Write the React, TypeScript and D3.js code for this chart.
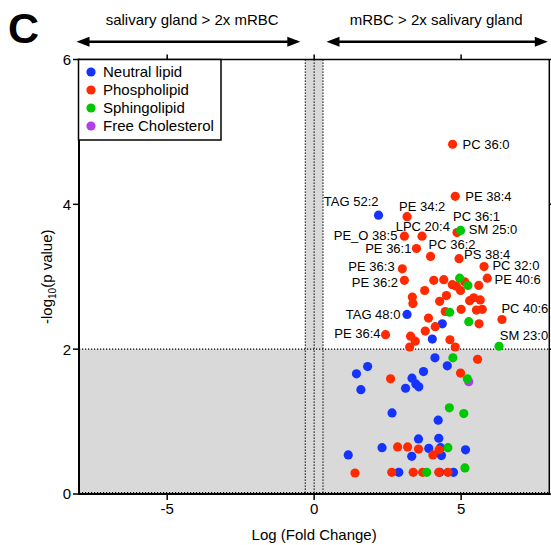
import React from "react";
import * as d3 from "d3";

// ---- Data ----
const xDomain = [-8, 8];
const yDomain = [0, 6];
const xTicks = [-5, 0, 5];
const yTicks = [0, 2, 4, 6];
const foldThreshold = 0.301; // log10(2)
const pThreshold = 2;

const classNames = ["Neutral lipid", "Phospholipid", "Sphingolipid", "Free Cholesterol"];
const classColors = ["#1433ff", "#ff2a00", "#00c800", "#b040e6"];

// Neutral lipid
const neutralX = [2.19, 3.16, 4.36, 4.02, 4.11, 1.82, 1.44, 4.53, 3.72, 3.33, 3.46, 3.56, 3.11, 1.59, 2.65, 4.22, 3.55, 4.24, 2.31, 3.90, 4.30, 5.15, 1.16, 3.32, 4.33, 2.88, 4.74, 4.27];
const neutralY = [3.85, 2.48, 2.35, 2.14, 1.88, 1.76, 1.66, 1.77, 1.69, 1.60, 1.52, 1.48, 1.46, 1.44, 1.12, 1.02, 0.76, 0.77, 0.64, 0.63, 0.64, 0.61, 0.54, 0.52, 0.53, 0.30, 0.30, 0.30];
const neutralLabels = ["TAG 52:2", "TAG 48:0"];

// Phospholipid
const phosphoX = [4.71, 4.80, 3.16, 4.86, 3.67, 3.07, 3.48, 3.96, 4.93, 5.78, 3.00, 5.89, 3.07, 4.07, 4.41, 5.12, 4.70, 4.84, 5.60, 4.98, 3.76, 4.50, 3.34, 5.43, 5.29, 5.65, 4.27, 3.36, 5.52, 5.72, 4.46, 5.00, 6.39, 3.89, 4.12, 5.61, 3.78, 2.43, 3.28, 3.44, 4.62, 3.25, 4.80, 5.56, 4.98, 2.60, 2.84, 3.18, 3.55, 4.25, 4.04, 1.39, 2.64, 3.37, 3.69, 4.24, 4.55];
const phosphoY = [4.83, 4.11, 3.83, 3.61, 3.56, 3.56, 3.39, 3.28, 3.25, 3.14, 3.11, 2.98, 2.95, 2.95, 2.96, 2.93, 2.89, 2.87, 2.88, 2.81, 2.81, 2.74, 2.72, 2.71, 2.67, 2.68, 2.66, 2.63, 2.54, 2.55, 2.52, 2.55, 2.41, 2.43, 2.31, 2.35, 2.25, 2.20, 2.18, 2.11, 2.13, 2.03, 2.03, 1.86, 1.67, 1.59, 0.65, 0.65, 0.62, 0.61, 0.54, 0.29, 0.30, 0.30, 0.30, 0.30, 0.30];
const phosphoLabels = ["PC 36:0", "PE 38:4", "PE 34:2", "PC 36:1", "LPC 20:4", "PE_O 38:5", "PE 36:1", "PC 36:2", "PS 38:4", "PC 32:0", "PE 36:3", "PE 40:6", "PE 36:2"];
const phosphoLabelIdx = [0, 1, 2, 3, 4, 5, 6, 7, 8, 9, 10, 11, 12];
const phosphoExtraLabels = [["PC 40:6", 32], ["PE 36:4", 37]] as const;

// Sphingolipid
const sphingoX = [4.98, 4.95, 5.23, 4.61, 5.26, 6.29, 4.72, 5.21, 4.60, 5.09, 4.55, 5.13, 3.83];
const sphingoY = [3.64, 2.98, 2.88, 2.51, 2.38, 2.04, 1.88, 1.59, 1.19, 1.11, 0.64, 0.36, 0.30];
const sphingoLabels = [["SM 25:0", 0], ["SM 23:0", 5]] as const;

// Free cholesterol
const cholX = [5.26];
const cholY = [1.55];

// ---- label placement (px offsets from point, text-anchor) ----
const labelPlacement: Record<string, [number, number, string]> = {
  "PC 36:0": [10, 0, "start"],
  "PE 38:4": [10, 0, "start"],
  "TAG 52:2": [0, -13.5, "end"],
  "PE 34:2": [-8, -10.6, "start"],
  "PC 36:1": [-4, -16, "start"],
  "SM 25:0": [8.3, -1, "start"],
  "LPC 20:4": [-26.3, -10, "start"],
  "PE_O 38:5": [-7, -1.2, "end"],
  "PE 36:1": [-5, -0.5, "end"],
  "PC 36:2": [-2, -12.4, "start"],
  "PS 38:4": [5, -4.5, "start"],
  "PC 32:0": [8.4, -1.5, "start"],
  "PE 36:3": [-7.7, -2.3, "end"],
  "PE 40:6": [7.3, 1.5, "start"],
  "PE 36:2": [-6.4, 2, "end"],
  "TAG 48:0": [-6.6, 0, "end"],
  "PC 40:6": [-0.6, -10.7, "start"],
  "PE 36:4": [-5, -1, "end"],
  "SM 23:0": [0.7, -10.7, "start"],
};

const W = 551;
const H = 545;
const font = "Arial, 'Liberation Sans', Helvetica, sans-serif";

export default function App() {
  const x = d3.scaleLinear().domain(xDomain).range([79, 549.3]);
  const y = d3.scaleLinear().domain(yDomain).range([494, 59.5]);

  const series = [
    { xs: neutralX, ys: neutralY, c: 0 },
    { xs: phosphoX, ys: phosphoY, c: 1 },
    { xs: cholX, ys: cholY, c: 3 },
    { xs: sphingoX, ys: sphingoY, c: 2 },
  ];

  const labels: { name: string; px: number; py: number }[] = [];
  neutralLabels.forEach((n, i) => labels.push({ name: n, px: x(neutralX[i]), py: y(neutralY[i]) }));
  phosphoLabelIdx.forEach((idx, i) => labels.push({ name: phosphoLabels[i], px: x(phosphoX[idx]), py: y(phosphoY[idx]) }));
  phosphoExtraLabels.forEach(([n, idx]) => labels.push({ name: n, px: x(phosphoX[idx]), py: y(phosphoY[idx]) }));
  sphingoLabels.forEach(([n, idx]) => labels.push({ name: n, px: x(sphingoX[idx]), py: y(sphingoY[idx]) }));

  const x0 = x(xDomain[0]);
  const x1 = x(xDomain[1]);
  const yTop = y(yDomain[1]);
  const yBot = y(yDomain[0]);
  const gray = "#d9d9d9";
  const arrowY = 41.7;

  const arrowHead = (tip: number, dir: number) => {
    const len = 13;
    const half = 5;
    return `M${tip},${arrowY} L${tip - dir * len},${arrowY - half} L${tip - dir * len},${arrowY + half} Z`;
  };

  return (
    <svg width={W} height={H} style={{ position: "absolute", left: 0, top: 0, background: "#fff" }} fontFamily={font}>
      {/* Panel letter */}
      <text x={8} y={43} fontSize={43} fontWeight="bold" fill="#000">C</text>

      {/* Header arrows */}
      <text x={(x0 + x(-foldThreshold)) / 2} y={25} fontSize={15} textAnchor="middle">salivary gland &gt; 2x mRBC</text>
      <text x={(x(foldThreshold) + x1) / 2} y={25} fontSize={15} textAnchor="middle">mRBC &gt; 2x salivary gland</text>
      <line x1={x0 + 8} x2={x(-foldThreshold) - 8} y1={arrowY} y2={arrowY} stroke="#000" strokeWidth={2.5} />
      <path d={arrowHead(x0 - 2.5, -1)} fill="#000" />
      <path d={arrowHead(x(-foldThreshold) - 5, 1)} fill="#000" />
      <line x1={x(foldThreshold) + 8} x2={x1 - 8} y1={arrowY} y2={arrowY} stroke="#000" strokeWidth={2.5} />
      <path d={arrowHead(x(foldThreshold) + 3.5, -1)} fill="#000" />
      <path d={arrowHead(x1 - 1.5, 1)} fill="#000" />

      {/* Gray regions */}
      <rect x={x0} y={y(pThreshold)} width={x1 - x0} height={yBot - y(pThreshold)} fill={gray} />
      <rect x={x(-foldThreshold)} y={yTop} width={x(foldThreshold) - x(-foldThreshold)} height={yBot - yTop} fill={gray} />

      {/* Dotted threshold lines */}
      {[-foldThreshold, 0, foldThreshold].map((v) => (
        <line key={v} x1={x(v)} x2={x(v)} y1={yTop} y2={yBot} stroke="#000" strokeWidth={1.2} strokeDasharray="1.2,1.8" />
      ))}
      <line x1={x0} x2={x1} y1={y(pThreshold)} y2={y(pThreshold)} stroke="#000" strokeWidth={1.2} strokeDasharray="1.2,1.8" />
      <line x1={x0} x2={x1} y1={yBot - 1.5} y2={yBot - 1.5} stroke="#000" strokeWidth={1} strokeDasharray="1.2,1.8" />

      {/* Frame: top & right */}
      <line x1={x0} x2={x1} y1={yTop} y2={yTop} stroke="#000" strokeWidth={1.5} />
      <line x1={x1} x2={x1} y1={yTop} y2={yBot} stroke="#000" strokeWidth={1.5} />

      {/* Points */}
      {series.map((s) =>
        s.xs.map((xv, i) => (
          <circle key={`${s.c}-${i}`} cx={x(xv)} cy={y(s.ys[i])} r={4.6} fill={classColors[s.c]} />
        ))
      )}

      {/* Point labels */}
      {labels.map((l) => {
        const [dx, dy, anchor] = labelPlacement[l.name];
        return (
          <text key={l.name} x={l.px + dx} y={l.py + dy} dy="0.35em" fontSize={13} textAnchor={anchor as any} fill="#000">
            {l.name}
          </text>
        );
      })}

      {/* Axes */}
      <line x1={x0} x2={x0} y1={yTop - 0.75} y2={yBot + 1} stroke="#000" strokeWidth={2} />
      <line x1={x0 - 1} x2={x1 + 0.75} y1={yBot} y2={yBot} stroke="#000" strokeWidth={2} />
      {xTicks.map((t) => (
        <g key={`xt${t}`}>
          <line x1={x(t)} x2={x(t)} y1={yBot} y2={yBot + 6} stroke="#000" strokeWidth={1.5} />
          <line x1={x(t)} x2={x(t)} y1={yTop} y2={yTop - 5} stroke="#000" strokeWidth={1.5} />
          <text x={x(t)} y={yBot + 20} fontSize={15} textAnchor="middle">{t < 0 ? `-${Math.abs(t)}` : t}</text>
        </g>
      ))}
      {yTicks.map((t) => (
        <g key={`yt${t}`}>
          <line x1={x0 - 6} x2={x0} y1={y(t)} y2={y(t)} stroke="#000" strokeWidth={1.5} />
          <line x1={x1} x2={x1 + 5} y1={y(t)} y2={y(t)} stroke="#000" strokeWidth={1.5} />
          <text x={x0 - 8} y={y(t)} dy="0.36em" fontSize={15} textAnchor="end">{t}</text>
        </g>
      ))}

      {/* Axis titles */}
      <text x={x(0)} y={540} fontSize={15} textAnchor="middle">Log (Fold Change)</text>
      <text transform={`translate(52, ${(yTop + yBot) / 2}) rotate(-90)`} fontSize={15} textAnchor="middle">
        -log<tspan fontSize={10} dy={4}>10</tspan><tspan dy={-4}>(p value)</tspan>
      </text>

      {/* Legend */}
      <rect x={78.5} y={59.5} width={142.5} height={80.5} fill="#fff" stroke="#000" strokeWidth={1.5} />
      {classNames.map((n, i) => (
        <g key={n}>
          <circle cx={91} cy={72 + i * 18} r={4.6} fill={classColors[i]} />
          <text x={103} y={72 + i * 18} dy="0.36em" fontSize={15}>{n}</text>
        </g>
      ))}
    </svg>
  );
}
